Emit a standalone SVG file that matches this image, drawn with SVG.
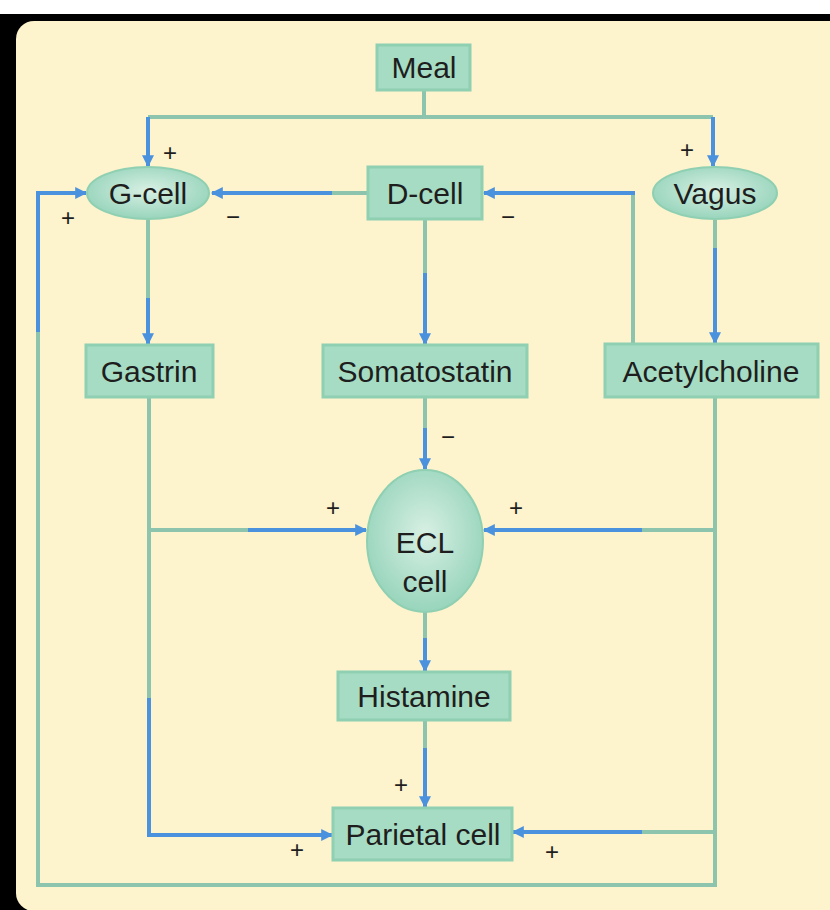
<svg xmlns="http://www.w3.org/2000/svg" width="830" height="910" viewBox="0 0 830 910">
<defs>
<style>
.lbl{font-family:"Liberation Sans",Arial,sans-serif;font-size:30px;fill:#1e1e1e;text-anchor:middle}
.sgn{font-family:"Liberation Sans",Arial,sans-serif;font-size:24px;fill:#1e1e1e;text-anchor:middle}
.box{fill:#a6dcc3;stroke:#8fcfb2;stroke-width:3}
.ell{fill:url(#eg);stroke:#8fcfb2;stroke-width:2}
.g{fill:none;stroke:#8cc4ae;stroke-width:4}
.b{fill:none;stroke:#4a92de;stroke-width:4}
.ba{fill:none;stroke:#4a92de;stroke-width:4;marker-end:url(#ah)}
</style>
<radialGradient id="eg" cx="0.5" cy="0.45" r="0.6">
<stop offset="0" stop-color="#d8f0e4"/>
<stop offset="1" stop-color="#92d2b8"/>
</radialGradient>
<marker id="ah" viewBox="0 0 10 10" refX="9" refY="5" markerWidth="14" markerHeight="12" markerUnits="userSpaceOnUse" orient="auto">
<path d="M0,0 L10,5 L0,10 Z" fill="#4a92de"/>
</marker>
</defs>
<rect x="0" y="0" width="830" height="910" fill="#ffffff"/>
<rect x="0" y="14" width="830" height="896" fill="#000000"/>
<rect x="16" y="21" width="840" height="890" rx="18" fill="#fdf3cd"/>

<g id="connectors">
<!-- Meal to branches -->
<path class="g" d="M424,90 V117 M148,117 H713"/>
<path class="ba" d="M148,117 V166"/>
<path class="ba" d="M713,117 V166"/>
<!-- D-cell to G-cell -->
<path class="g" d="M368,193 H330"/>
<path class="ba" d="M332,193 H212"/>
<!-- Acetylcholine to D-cell -->
<path class="g" d="M633,344 V193"/>
<path class="ba" d="M635,193 H484"/>
<!-- G-cell to Gastrin -->
<path class="g" d="M148,220 V300"/>
<path class="ba" d="M148,298 V344"/>
<!-- D-cell to Somatostatin -->
<path class="g" d="M425,219 V275"/>
<path class="ba" d="M425,273 V344"/>
<!-- Vagus to Acetylcholine -->
<path class="g" d="M715,220 V250"/>
<path class="ba" d="M715,248 V343"/>
<!-- Somatostatin to ECL -->
<path class="g" d="M425,397 V430"/>
<path class="ba" d="M425,428 V469"/>
<!-- Gastrin line -->
<path class="g" d="M149,397 V700 M149,530 H250"/>
<path class="ba" d="M248,530 H366"/>
<path class="b" d="M149,698 V835 H200"/>
<path class="ba" d="M198,835 H332"/>
<!-- Acetylcholine line -->
<path class="g" d="M715,397 V885 H38 V330 M715,530 H640 M715,832 H640"/>
<path class="b" d="M38,332 V193"/>
<path class="ba" d="M36,193 H86"/>
<path class="ba" d="M642,530 H484"/>
<path class="ba" d="M642,832 H513"/>
<!-- ECL to Histamine -->
<path class="g" d="M425,612 V640"/>
<path class="ba" d="M425,638 V671"/>
<!-- Histamine to Parietal -->
<path class="g" d="M425,720 V750"/>
<path class="ba" d="M425,748 V807"/>
</g>

<g id="signs">
<text class="sgn" x="170" y="161">+</text>
<text class="sgn" x="68" y="226">+</text>
<text class="sgn" x="233" y="225">−</text>
<text class="sgn" x="508" y="225">−</text>
<text class="sgn" x="687" y="158">+</text>
<text class="sgn" x="448" y="445">−</text>
<text class="sgn" x="333" y="516">+</text>
<text class="sgn" x="516" y="516">+</text>
<text class="sgn" x="401" y="793">+</text>
<text class="sgn" x="297" y="858">+</text>
<text class="sgn" x="552" y="860">+</text>
</g>

<g id="meal"><rect class="box" x="377" y="45" width="93" height="45"/><text class="lbl" x="424" y="78">Meal</text></g>
<g id="g-cell"><ellipse class="ell" cx="148" cy="193" rx="61" ry="26"/><text class="lbl" x="148" y="204">G-cell</text></g>
<g id="d-cell"><rect class="box" x="368" y="167" width="114" height="52"/><text class="lbl" x="425" y="204">D-cell</text></g>
<g id="vagus"><ellipse class="ell" cx="715" cy="193" rx="62" ry="26"/><text class="lbl" x="715" y="204">Vagus</text></g>
<g id="gastrin"><rect class="box" x="86" y="345" width="127" height="52"/><text class="lbl" x="149" y="382">Gastrin</text></g>
<g id="somatostatin"><rect class="box" x="323" y="345" width="204" height="52"/><text class="lbl" x="425" y="382">Somatostatin</text></g>
<g id="acetylcholine"><rect class="box" x="605" y="344" width="213" height="53"/><text class="lbl" x="711" y="382">Acetylcholine</text></g>
<g id="ecl-cell"><ellipse class="ell" cx="425" cy="541" rx="58" ry="71"/><text class="lbl" x="425" y="553">ECL</text><text class="lbl" x="425" y="592">cell</text></g>
<g id="histamine"><rect class="box" x="338" y="672" width="172" height="48"/><text class="lbl" x="424" y="707">Histamine</text></g>
<g id="parietal-cell"><rect class="box" x="333" y="808" width="179" height="52"/><text class="lbl" x="423" y="845">Parietal cell</text></g>
</svg>
